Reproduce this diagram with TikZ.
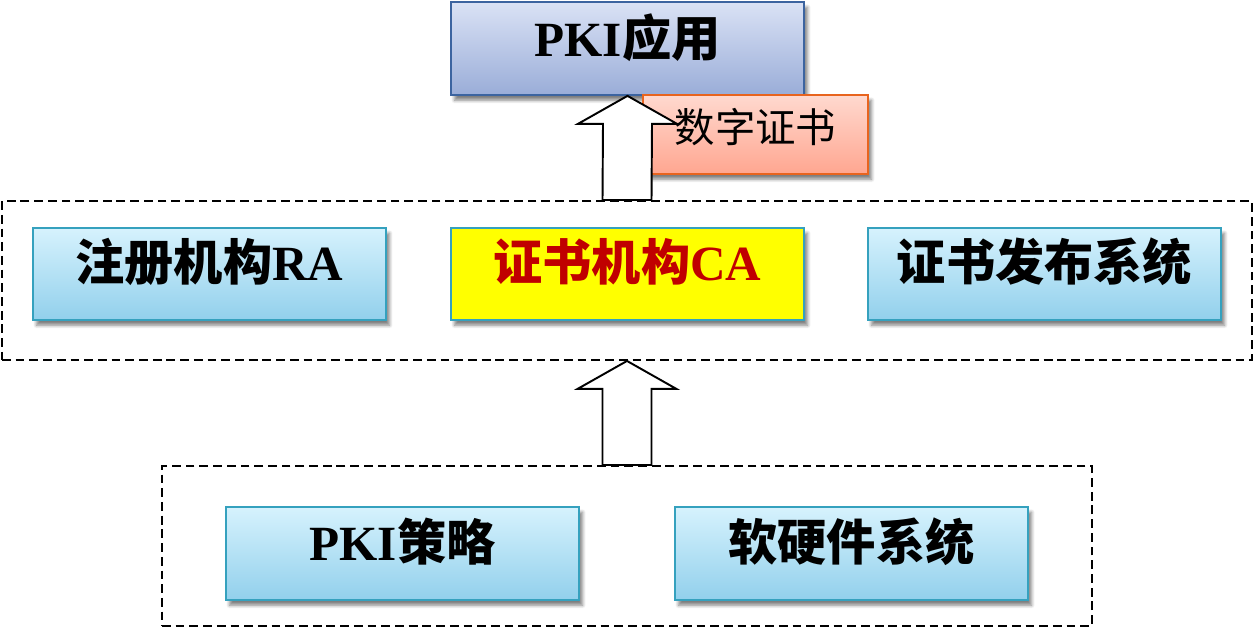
\documentclass[tikz,border=0pt]{standalone}
\usepackage{fontspec}
\setmainfont{Liberation Serif}
\newfontfamily\cjk{Noto Sans CJK SC}
\newcommand{\zh}[1]{{\cjk #1}}
\usetikzlibrary{calc,shadows.blur}
\pgfdeclarelayer{nodelayer}
\pgfdeclarelayer{edgelayer}
\pgfsetlayers{nodelayer,edgelayer,main}
\definecolor{appTop}{HTML}{DAE2F5}
\definecolor{appBottom}{HTML}{9AADD8}
\definecolor{appLine}{HTML}{3C64A0}
\definecolor{certTop}{HTML}{FFD9CF}
\definecolor{certBottom}{HTML}{FFA690}
\definecolor{certLine}{HTML}{E8641E}
\definecolor{boxTop}{HTML}{D6F2FD}
\definecolor{boxBottom}{HTML}{92D0EC}
\definecolor{boxLine}{HTML}{35A1BE}
\definecolor{caFill}{HTML}{FFFF00}
\definecolor{caText}{HTML}{C00000}
\tikzstyle{box shadow}=[blur shadow={shadow xshift=2pt, shadow yshift=-3pt, shadow blur steps=6, shadow opacity=50}]
\tikzstyle{blue box}=[box shadow, draw=boxLine, line width=1pt, top color=boxTop, bottom color=boxBottom, minimum width=7.06cm, minimum height=1.84cm, inner sep=0pt, text height=0.88cm, text depth=0.6cm, font=\fontsize{28}{34}\selectfont\bfseries]
\tikzstyle{app box}=[blue box, draw=appLine, top color=appTop, bottom color=appBottom, minimum height=1.86cm, text depth=0.54cm]
\tikzstyle{ca box}=[blue box, top color=caFill, bottom color=caFill, text=caText]
\tikzstyle{cert box}=[box shadow, draw=certLine, line width=1pt, top color=certTop, bottom color=certBottom, minimum width=4.5cm, minimum height=1.58cm, inner sep=0pt, text height=0.7cm, text depth=0.38cm, font=\fontsize{23}{28}\selectfont]
\tikzstyle{dashed group}=[draw=black, line width=1.1pt, dash pattern=on 5pt off 2.8pt, inner sep=0pt]
\tikzstyle{hollow arrow}=[draw=black, fill=white, line width=1.1pt, line join=miter]
% big hollow arrow from the middle of #1 up to #2
\newcommand{\bigarrow}[2]{%
	\draw [style=hollow arrow] ($(#1)+(-0.49,0)$) -- ($(#2)+(-0.49,-0.56)$) -- ($(#2)+(-0.99,-0.56)$) -- (#2)
		-- ($(#2)+(0.99,-0.56)$) -- ($(#2)+(0.49,-0.56)$) -- ($(#1)+(0.49,0)$) -- cycle;}

\begin{document}
\begin{tikzpicture}
	\useasboundingbox (0, 0) rectangle (25.08, 12.54);
	\begin{pgfonlayer}{nodelayer}
		\node [style=app box] (app) at (12.55, 11.57) {PKI\zh{应用}};
		\node [style=cert box] (cert) at (15.11, 9.85) {\zh{数字证书}};
		\node [style=blue box] (ra) at (4.19, 7.06) {\zh{注册机构}RA};
		\node [style=ca box] (ca) at (12.55, 7.06) {\zh{证书机构}CA};
		\node [style=blue box] (pub) at (20.89, 7.06) {\zh{证书发布系统}};
		\node [style=blue box, minimum height=1.86cm] (policy) at (8.05, 1.47) {PKI\zh{策略}};
		\node [style=blue box, minimum height=1.86cm] (sys) at (17.03, 1.47) {\zh{软硬件系统}};
	\end{pgfonlayer}
	% dashed frames round the two rows
	\node [style=dashed group, minimum width=25cm, minimum height=3.18cm] (layer) at (12.54, 6.93) {};
	\node [style=dashed group, minimum width=18.6cm, minimum height=3.2cm] (base) at (12.54, 1.62) {};
	\begin{pgfonlayer}{edgelayer}
		\bigarrow{layer.north}{app.south}
		\bigarrow{base.north}{layer.south}
	\end{pgfonlayer}
\end{tikzpicture}
\end{document}
